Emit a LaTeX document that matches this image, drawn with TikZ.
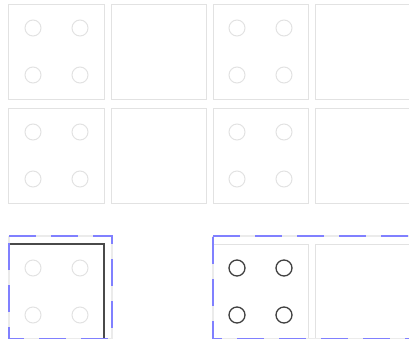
\documentclass[tikz,border=0pt]{standalone}
\usepackage{tikz}
\usetikzlibrary{positioning}

\definecolor{cellgray}{HTML}{E2E2E2}
\definecolor{pipdark}{HTML}{404040}
\definecolor{framedark}{HTML}{4A4A4A}
\definecolor{selblue}{HTML}{8080FF}

\begin{document}
\begin{tikzpicture}[x=1bp, y=-1bp,
		cell/.style={draw=cellgray, line width=1bp, minimum size=95bp, inner sep=0pt, outer sep=0pt},
		pip/.style={draw=cellgray, line width=1bp, circle, minimum size=16bp, inner sep=0pt},
		darkpip/.style={pip, draw=pipdark, line width=1.3bp},
		selframe/.style={draw=selblue, line width=1.6bp, dash pattern=on 27bp off 15bp},
		selback/.style={draw=cellgray!70, line width=1.6bp}]
		
		% Fix the page size
		\useasboundingbox (0,0) rectangle (409,339);
		\clip (0,0) rectangle (409,339);
		
		% First row of cells
		\node[cell] (c11) at (56.5,51.5) {};
		\node[cell, right=7bp of c11] (c12) {};
		\node[cell, right=7bp of c12] (c13) {};
		\node[cell, right=7bp of c13] (c14) {};
		
		% Second row of cells
		\node[cell, below=9bp of c11] (c21) {};
		\node[cell, right=7bp of c21] (c22) {};
		\node[cell, right=7bp of c22] (c23) {};
		\node[cell, right=7bp of c23] (c24) {};
		
		% Bottom row, set apart
		\node[cell, below=41bp of c21] (c31) {};
		\node[cell, below=41bp of c23] (c33) {};
		\node[cell, right=7bp of c33] (c34) {};
		
		% Light pips in the cells
		\foreach \c in {c11,c13,c21,c23,c31}
			\foreach \dx/\dy/\k in {-23.5/-23.5/a, 23.5/-23.5/b, -23.5/23.5/c, 23.5/23.5/d}
				\node[pip] (\c\k) at ([shift={(\dx,\dy)}]\c.center) {};
		
		% Dark pips in the chosen cell
		\foreach \dx/\dy/\k in {-23.5/-23.5/a, 23.5/-23.5/b, -23.5/23.5/c, 23.5/23.5/d}
			\node[darkpip] (c33\k) at ([shift={(\dx,\dy)}]c33.center) {};
		
		% Dark frame on the bottom left cell
		\draw[draw=framedark, line width=1.3bp] (c31.north west) rectangle (c31.south east);
		
		% Corners of the selection frames
		\coordinate (sel1a) at ([yshift=8bp]c31.north west);
		\coordinate (sel1b) at ([xshift=8bp]c31.south east);
		\coordinate (sel2a) at ([yshift=8bp]c33.north west);
		\coordinate (sel2b) at ([xshift=8bp]c34.south east);
		
		% Dashed selection frames, top edge first
		\draw[selback] (sel1a) -| (sel1b) -| (sel1a);
		\draw[selframe] (sel1a) -| (sel1b) -| (sel1a);
		\draw[selback] (sel2a) -| (sel2b) -| (sel2a);
		\draw[selframe] (sel2a) -| (sel2b) -| (sel2a);
		
	\end{tikzpicture}
\end{document}
